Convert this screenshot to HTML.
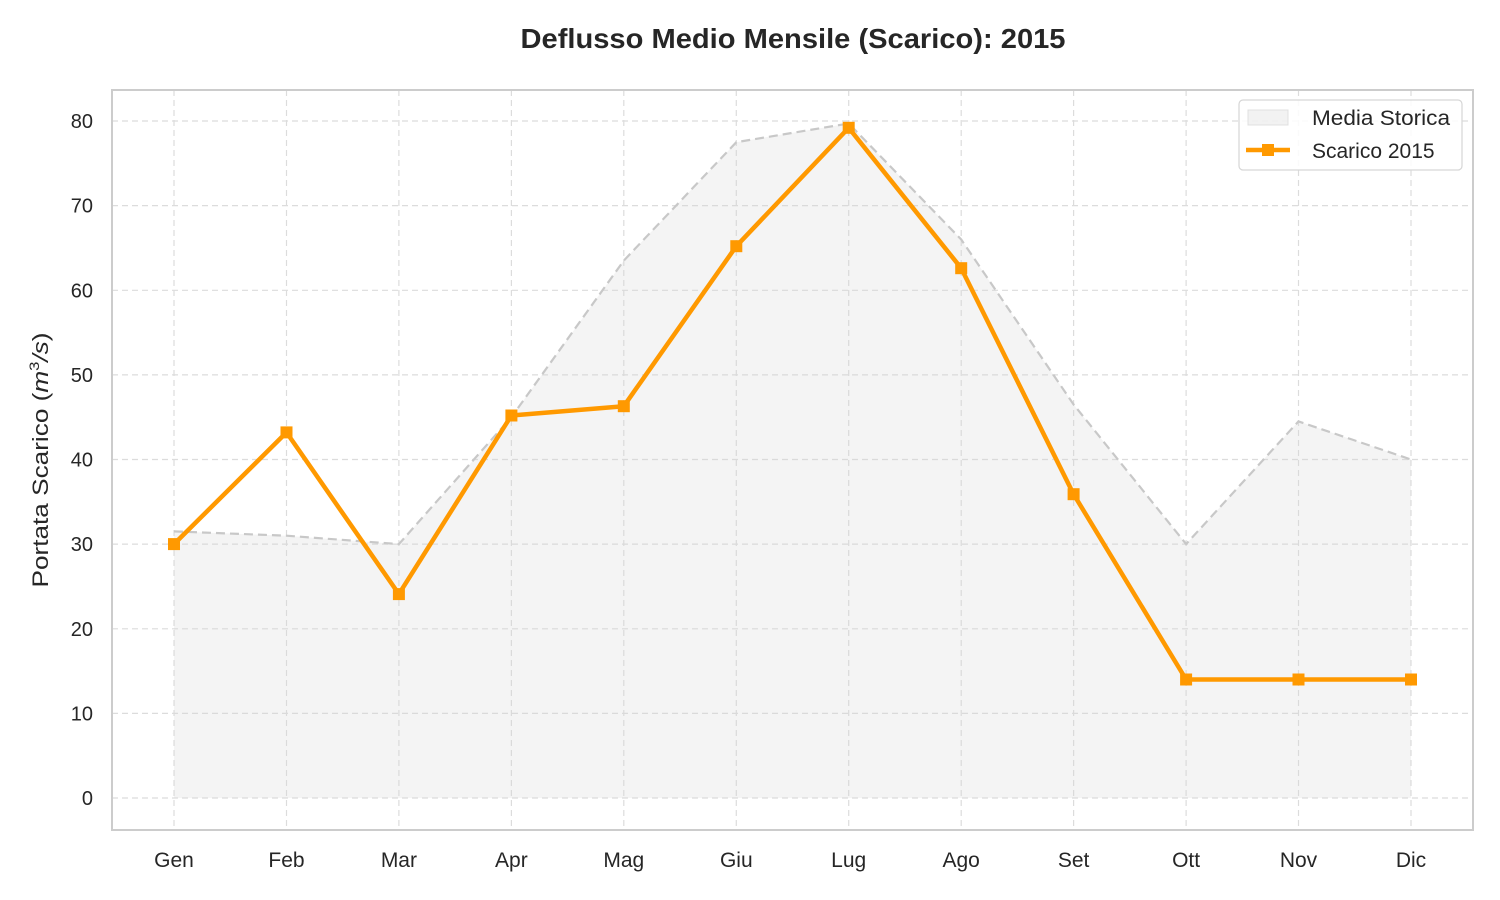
<!DOCTYPE html>
<html><head><meta charset="utf-8"><style>
html,body{margin:0;padding:0;background:#fff;}
svg{display:block;font-family:"Liberation Sans","DejaVu Sans",sans-serif;}
</style></head><body>
<svg width="1500" height="900" viewBox="0 0 1500 900">
<rect width="1500" height="900" fill="#fff"/>
<text x="793" y="48" text-anchor="middle" font-size="28" font-weight="bold" fill="#262626" textLength="545" lengthAdjust="spacingAndGlyphs">Deflusso Medio Mensile (Scarico): 2015</text>
<g stroke="#dcdcdc" stroke-width="1.2" stroke-dasharray="6,4">
<line x1="112" x2="1473" y1="798" y2="798"/><line x1="112" x2="1473" y1="713.4" y2="713.4"/>
<line x1="112" x2="1473" y1="628.8" y2="628.8"/><line x1="112" x2="1473" y1="544.1" y2="544.1"/>
<line x1="112" x2="1473" y1="459.5" y2="459.5"/><line x1="112" x2="1473" y1="374.9" y2="374.9"/>
<line x1="112" x2="1473" y1="290.3" y2="290.3"/><line x1="112" x2="1473" y1="205.6" y2="205.6"/>
<line x1="112" x2="1473" y1="121" y2="121"/>
<line y1="90" y2="830" x1="174" x2="174"/><line y1="90" y2="830" x1="286.5" x2="286.5"/>
<line y1="90" y2="830" x1="398.9" x2="398.9"/><line y1="90" y2="830" x1="511.4" x2="511.4"/>
<line y1="90" y2="830" x1="623.8" x2="623.8"/><line y1="90" y2="830" x1="736.3" x2="736.3"/>
<line y1="90" y2="830" x1="848.7" x2="848.7"/><line y1="90" y2="830" x1="961.2" x2="961.2"/>
<line y1="90" y2="830" x1="1073.6" x2="1073.6"/><line y1="90" y2="830" x1="1186.1" x2="1186.1"/>
<line y1="90" y2="830" x1="1298.5" x2="1298.5"/><line y1="90" y2="830" x1="1411" x2="1411"/>
</g>
<polygon fill="#d3d3d3" fill-opacity="0.25" points="174,798 174,531.4 286.5,535.7 398.9,544.1 511.4,417.2 623.8,260.6 736.3,142.2 848.7,123.5 961.2,239.5 1073.6,404.5 1186.1,544.1 1298.5,421.4 1411,459.5 1411,798"/>
<polyline fill="none" stroke="#c8c8c8" stroke-width="2.2" stroke-dasharray="9,5" points="174,531.4 286.5,535.7 398.9,544.1 511.4,417.2 623.8,260.6 736.3,142.2 848.7,123.5 961.2,239.5 1073.6,404.5 1186.1,544.1 1298.5,421.4 1411,459.5"/>
<polyline fill="none" stroke="#ff9900" stroke-width="4.5" stroke-linejoin="round" points="174,544.1 286.5,432.4 398.9,594.1 511.4,415.5 623.8,406.2 736.3,246.2 848.7,127.8 961.2,268.2 1073.6,494.2 1186.1,679.5 1298.5,679.5 1411,679.5"/>
<g fill="#ff9900">
<rect x="168" y="538.1" width="12" height="12"/><rect x="280.5" y="426.4" width="12" height="12"/>
<rect x="392.9" y="588.1" width="12" height="12"/><rect x="505.4" y="409.5" width="12" height="12"/>
<rect x="617.8" y="400.2" width="12" height="12"/><rect x="730.3" y="240.2" width="12" height="12"/>
<rect x="842.7" y="121.8" width="12" height="12"/><rect x="955.2" y="262.2" width="12" height="12"/>
<rect x="1067.6" y="488.2" width="12" height="12"/><rect x="1180.1" y="673.5" width="12" height="12"/>
<rect x="1292.5" y="673.5" width="12" height="12"/><rect x="1405" y="673.5" width="12" height="12"/>
</g>
<rect x="112" y="90" width="1361" height="740" fill="none" stroke="#cccccc" stroke-width="2"/>
<g font-size="20" fill="#262626" text-anchor="end">
<text x="93" y="805">0</text><text x="93" y="720.4">10</text><text x="93" y="635.8">20</text>
<text x="93" y="551.1">30</text><text x="93" y="466.5">40</text><text x="93" y="381.9">50</text>
<text x="93" y="297.3">60</text><text x="93" y="212.6">70</text><text x="93" y="128">80</text>
</g>
<g font-size="21" fill="#262626" text-anchor="middle">
<text x="174" y="867">Gen</text><text x="286.5" y="867">Feb</text><text x="398.9" y="867">Mar</text>
<text x="511.4" y="867">Apr</text><text x="623.8" y="867">Mag</text><text x="736.3" y="867">Giu</text>
<text x="848.7" y="867">Lug</text><text x="961.2" y="867">Ago</text><text x="1073.6" y="867">Set</text>
<text x="1186.1" y="867">Ott</text><text x="1298.5" y="867">Nov</text><text x="1411" y="867">Dic</text>
</g>
<text transform="translate(48,460) rotate(-90)" text-anchor="middle" font-size="22" fill="#262626" textLength="255" lengthAdjust="spacingAndGlyphs">Portata Scarico (<tspan font-style="italic">m</tspan><tspan font-size="14" dy="-9">3</tspan><tspan dy="9" font-style="italic">/s</tspan>)</text>
<rect x="1239" y="100" width="223" height="70" rx="4" fill="#fff" fill-opacity="0.85" stroke="#d6d6d6" stroke-width="1.2"/>
<rect x="1248" y="110" width="40" height="15" fill="#d3d3d3" fill-opacity="0.3" stroke="#e0e0e0"/>
<text x="1312" y="125" font-size="21" fill="#262626" textLength="138" lengthAdjust="spacingAndGlyphs">Media Storica</text>
<line x1="1246" x2="1290" y1="150" y2="150" stroke="#ff9900" stroke-width="4.5"/>
<rect x="1262" y="144" width="12" height="12" fill="#ff9900"/>
<text x="1312" y="158" font-size="21" fill="#262626">Scarico 2015</text>
</svg>
</body></html>
